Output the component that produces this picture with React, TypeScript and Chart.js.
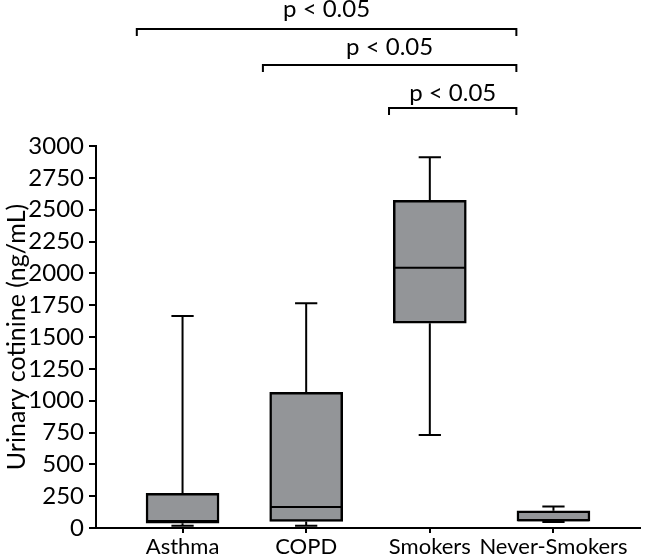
import React, { useEffect, useRef } from "react";
import { Chart, registerables } from "chart.js";

Chart.register(...registerables);

const categories = ["Asthma", "COPD", "Smokers", "Never-Smokers"];
const whiskerMin = [17, 17, 730, 47];
const q1Values = [38, 51, 1608, 53];
const medianValues = [55, 164, 2043, 60];
const q3Values = [272, 1065, 2573, 135];
const whiskerMax = [1665, 1765, 2911, 169];

const yMin = 0;
const yMax = 3000;
const yStep = 250;

const bracketFrom = [-0.37, 0.65, 1.67];
const bracketTo = [2.7, 2.7, 2.7];
const bracketLevel = [3918, 3636, 3298];
const bracketLabelLevel = [4010, 3716, 3354];
const bracketLabels = ["p < 0.05", "p < 0.05", "p < 0.05"];

const FONT_FAMILY = "Lato, 'Open Sans', sans-serif";
const TICK_SIZE = 24;
const CAT_SIZE = 22;
const TITLE_SIZE = 25;
const CAP_HALF = 0.09;
const BRACKET_DROP = 55;

const boxPlugin = {
  id: "boxWhiskers",
  beforeDatasetsDraw(chart: any) {
    const { ctx, scales } = chart;
    const x = scales.x;
    const y = scales.y;
    ctx.save();
    ctx.strokeStyle = "#000";
    ctx.lineWidth = 2;
    categories.forEach((_, i) => {
      const cx = x.getPixelForValue(i);
      const half = x.getPixelForValue(i + CAP_HALF) - cx;
      const yq3 = y.getPixelForValue(q3Values[i]);
      const yq1 = y.getPixelForValue(q1Values[i]);
      const yMaxP = y.getPixelForValue(whiskerMax[i]);
      const yMinP = y.getPixelForValue(whiskerMin[i]);
      ctx.beginPath();
      ctx.moveTo(cx, yq3);
      ctx.lineTo(cx, yMaxP);
      ctx.moveTo(cx - half, yMaxP);
      ctx.lineTo(cx + half, yMaxP);
      ctx.moveTo(cx, yq1);
      ctx.lineTo(cx, yMinP);
      ctx.moveTo(cx - half, yMinP);
      ctx.lineTo(cx + half, yMinP);
      ctx.stroke();
    });
    ctx.restore();
  },
  afterDatasetsDraw(chart: any) {
    const { ctx, scales } = chart;
    const x = scales.x;
    const y = scales.y;
    const meta = chart.getDatasetMeta(0);
    ctx.save();
    ctx.strokeStyle = "#000";
    ctx.lineWidth = 2;
    categories.forEach((_, i) => {
      const el = meta.data[i];
      const w = el.width;
      const ym = y.getPixelForValue(medianValues[i]);
      ctx.beginPath();
      ctx.moveTo(el.x - w / 2 + 1, ym);
      ctx.lineTo(el.x + w / 2 - 1, ym);
      ctx.stroke();
    });
    // significance brackets
    ctx.fillStyle = "#000";
    ctx.font = `${TICK_SIZE}px ${FONT_FAMILY}`;
    ctx.textAlign = "center";
    ctx.textBaseline = "alphabetic";
    bracketLabels.forEach((label, i) => {
      const x1 = x.getPixelForValue(bracketFrom[i]);
      const x2 = x.getPixelForValue(bracketTo[i]);
      const yl = y.getPixelForValue(bracketLevel[i]);
      const yd = y.getPixelForValue(bracketLevel[i] - BRACKET_DROP);
      ctx.beginPath();
      ctx.moveTo(x1, yd);
      ctx.lineTo(x1, yl);
      ctx.lineTo(x2, yl);
      ctx.lineTo(x2, yd);
      ctx.stroke();
      const yt = y.getPixelForValue(bracketLabelLevel[i]);
      ctx.fillText(label, (x1 + x2) / 2, yt);
    });
    ctx.restore();
  },
};

export default function App() {
  const canvasRef = useRef<HTMLCanvasElement | null>(null);

  useEffect(() => {
    document.body.style.margin = "0";
    const canvas = canvasRef.current;
    if (!canvas) return;
    const chart = new Chart(canvas, {
      type: "bar",
      data: {
        datasets: [
          {
            data: categories.map((_, i) => ({ x: i, y: [q1Values[i], q3Values[i]] })) as any,
            backgroundColor: "#939598",
            borderColor: "#000",
            borderWidth: 2.5,
            borderSkipped: false,
            barThickness: 73,
          },
        ],
      },
      options: {
        animation: false,
        responsive: false,
        layout: { padding: { top: 146, right: 7, left: 0, bottom: 0 } },
        plugins: { legend: { display: false }, tooltip: { enabled: false } },
        scales: {
          x: {
            type: "linear",
            offset: false,
            min: -0.7,
            max: 3.7,
            afterBuildTicks: (s: any) => {
              s.ticks = categories.map((_, i) => ({ value: i }));
            },
            ticks: {
              callback: (v: any) => categories[Number(v)] ?? "",
              font: { family: FONT_FAMILY, size: CAT_SIZE },
              color: "#000",
              padding: 1,
              maxRotation: 0,
              autoSkip: false,
            },
            grid: {
              display: true,
              offset: false,
              drawOnChartArea: false,
              drawTicks: true,
              tickLength: 5,
              color: "#000",
              lineWidth: 2,
            },
            border: { display: true, color: "#000", width: 2 },
            afterFit: (s: any) => {
              s.height = 30;
            },
          },
          y: {
            type: "linear",
            min: yMin,
            max: yMax,
            ticks: {
              stepSize: yStep,
              font: { family: FONT_FAMILY, size: TICK_SIZE },
              color: "#000",
              padding: 5,
              callback: (v: any) => String(v),
            },
            grid: {
              display: true,
              drawOnChartArea: false,
              drawTicks: true,
              tickLength: 7,
              color: "#000",
              lineWidth: 2,
            },
            border: { display: true, color: "#000", width: 2 },
            title: {
              display: true,
              text: "Urinary cotinine (ng/mL)",
              font: { family: FONT_FAMILY, size: TITLE_SIZE },
              color: "#000",
              padding: { top: 2, bottom: 0 },
            },
            afterFit: (s: any) => {
              s.width = 96;
            },
          },
        },
      },
      plugins: [boxPlugin],
    });
    return () => chart.destroy();
  }, []);

  return <canvas ref={canvasRef} width={647} height={558} style={{ display: "block" }} />;
}
